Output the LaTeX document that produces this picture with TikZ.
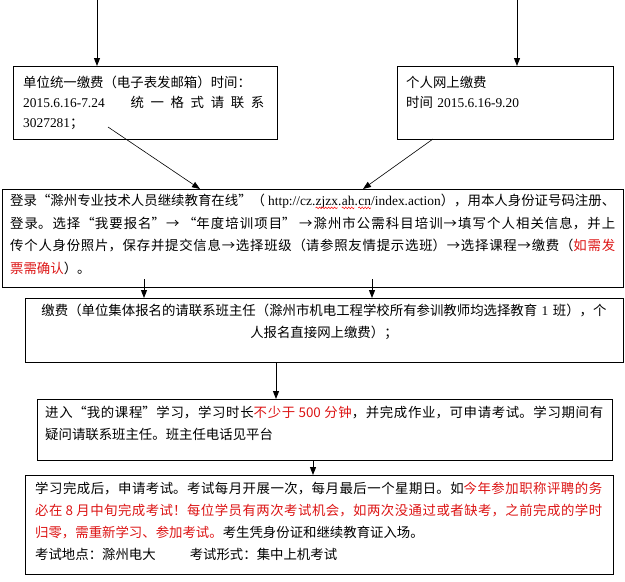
\documentclass[tikz,border=0pt]{standalone}
\usepackage{fontspec}
\setmainfont{Noto Sans CJK SC}
\newfontfamily\lat{Liberation Serif}
\usetikzlibrary{arrows.meta,decorations.pathmorphing}
\definecolor{txtred}{RGB}{220,20,20}
\XeTeXlinebreaklocale "zh"
\XeTeXlinebreakskip=0pt plus 3pt minus 0.5pt
\XeTeXlinebreakpenalty=10000
\setlength{\parindent}{0pt}
\newcommand\redwave[2]{\tikz[baseline=(#1.base)]{\node[inner sep=0pt,outer sep=0pt] (#1) {#2};
  \draw[red, line width=0.5pt, decorate, decoration={snake,amplitude=0.8pt,segment length=3pt}]
    ([yshift=-2.2pt]#1.base west) -- ([yshift=-2.2pt]#1.base east);}}
\begin{document}
\begin{tikzpicture}[x=1pt,y=-1pt,
  box/.style={draw, line width=1.1pt, inner sep=0pt, anchor=north west},
  txt/.style={inner sep=0pt, anchor=north west, align=justify, font=\fontsize{13.4}{22}\selectfont},
  arr/.style={-{Triangle[width=6pt,length=8pt]}, line width=1pt},
  thinarr/.style={-{Triangle[width=6pt,length=8pt]}, line width=0.6pt}]
\useasboundingbox (0,0) rectangle (625,582);
% boxes
\node[box, minimum width=264pt, minimum height=73pt] (bl) at (13,66) {};
\node[box, minimum width=216pt, minimum height=73pt] (br) at (397,66) {};
\node[box, minimum width=621pt, minimum height=98pt] (b1) at (2,189) {};
\node[box, minimum width=598pt, minimum height=64pt] (b2) at (25,298) {};
\node[box, minimum width=575pt, minimum height=61pt] (b3) at (37,399) {};
\node[box, minimum width=588pt, minimum height=99pt] (b4) at (25,475) {};
% texts
\node[txt, align=left, text width=241pt, font=\fontsize{13.4}{20}\selectfont] (tl) at (23,76)
  {单位统一缴费（电子表发邮箱）时间：\\
   {\lat 2015.6.16-7.24}\hspace{26pt}统\hfill 一\hfill 格\hfill 式\hfill 请\hfill 联\hfill 系\\
   {\lat 3027281}；};
\node[txt, align=left, text width=200pt, font=\fontsize{13.4}{20}\selectfont] (tr) at (406,76)
  {个人网上缴费\\时间 {\lat 2015.6.16-9.20}};
\node[txt, text width=605pt, font=\fontsize{13.4}{22.5}\selectfont] (t1) at (10,194)
  {登录“滁州专业技术人员继续教育在线”（ {\lat http://cz.\redwave{wva}{zjzx}.\redwave{wvb}{ah}.\redwave{wvc}{cn}/index.action}），用本人身份证号码注册、\linebreak
   登录。选择“我要报名”→ “年度培训项目” →滁州市公需科目培训→填写个人相关信息，并上\linebreak
   传个人身份照片，保存并提交信息→选择班级（请参照友情提示选班）→选择课程→缴费（{\color{txtred}如需发\linebreak
   票需确认}）。};
\node[txt, anchor=north, align=center, text width=590pt] (t2) at (324,304)
  {\XeTeXlinebreakskip=0pt\relax 缴费（单位集体报名的请联系班主任（滁州市机电工程学校所有参训教师均选择教育~{\lat 1}~班），个\\
   人报名直接网上缴费）；};
\node[txt, text width=558pt] (t3) at (45,406)
  {进入“我的课程”学习，学习时长{\color{txtred}不少于 500 分钟}，并完成作业，可申请考试。学习期间有\linebreak
   疑问请联系班主任。班主任电话见平台};
\node[txt, text width=567pt] (t4) at (35,482)
  {学习完成后，申请考试。考试每月开展一次，每月最后一个星期日。如{\color{txtred}今年参加职称评聘的务\linebreak
   必在 8 月中旬完成考试！每位学员有两次考试机会，如两次没通过或者缺考，之前完成的学时\linebreak
   归零，需重新学习、参加考试。}考生凭身份证和继续教育证入场。\\
   考试地点：滁州电大\hspace{34pt}考试形式：集中上机考试};
% connectors
\coordinate (sl) at (97,0);
\coordinate (sr) at (517,0);
\coordinate (dl) at (108,127);
\coordinate (dr) at (433,139);
\coordinate (el) at (200,189);
\coordinate (er) at (363,189);
\coordinate (ml) at (144,279);
\coordinate (mr) at (372,279);
\coordinate (m2) at (276,362);
\coordinate (m3) at (313,460);
\draw[arr] (sl) -- (sl |- bl.north);
\draw[arr] (sr) -- (sr |- br.north);
\draw[thinarr] (dl) -- (el |- b1.north);
\draw[thinarr] (dr) -- (er |- b1.north);
\draw[arr] (ml) -- (ml |- b2.north);
\draw[arr] (mr) -- (mr |- b2.north);
\draw[arr] (m2 |- b2.south) -- (m2 |- b3.north);
\draw[arr] (m3 |- b3.south) -- (m3 |- b4.north);
\end{tikzpicture}
\end{document}
